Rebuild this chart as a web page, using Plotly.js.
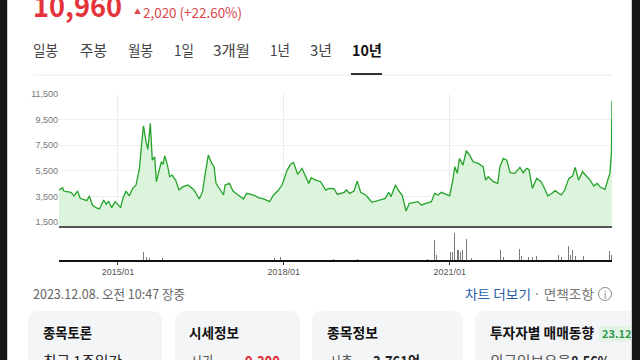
<!DOCTYPE html>
<html><head><meta charset="utf-8">
<script src="https://cdn.plot.ly/plotly-3.0.1.min.js"></script>
<style>
html,body{margin:0;padding:0;width:640px;height:360px;overflow:hidden;background:#fff;}
#wrap{position:relative;width:640px;height:360px;overflow:hidden;}
#deco{position:absolute;left:0;top:0;}
#chart{position:absolute;left:0;top:0;width:640px;height:360px;}
.k{font-family:"Noto Sans CJK KR","Noto Sans",sans-serif;}
</style></head>
<body><div id="wrap">
<svg id="deco" width="640" height="360" xmlns="http://www.w3.org/2000/svg">
  <rect x="0" y="0" width="640" height="360" fill="#ffffff"/>
  <!-- header -->
  <text class="k" x="33" y="17" font-size="29" font-weight="700" fill="#e5333b" textLength="89" lengthAdjust="spacingAndGlyphs">10,960</text>
  <text class="k" x="134" y="14" font-size="7" fill="#e0464b">▲</text>
  <text class="k" x="143" y="18" font-size="14" fill="#d9474b" textLength="99" lengthAdjust="spacingAndGlyphs">2,020 (+22.60%)</text>
  <!-- tabs -->
  <g class="k" font-size="15" fill="#444">
    <text x="33" y="56" textLength="25" lengthAdjust="spacingAndGlyphs">일봉</text>
    <text x="80" y="56" textLength="27" lengthAdjust="spacingAndGlyphs">주봉</text>
    <text x="128" y="56" textLength="25" lengthAdjust="spacingAndGlyphs">월봉</text>
    <text x="174" y="56" textLength="20" lengthAdjust="spacingAndGlyphs">1일</text>
    <text x="213" y="56" textLength="37" lengthAdjust="spacingAndGlyphs">3개월</text>
    <text x="270" y="56" textLength="20" lengthAdjust="spacingAndGlyphs">1년</text>
    <text x="310" y="56" textLength="22" lengthAdjust="spacingAndGlyphs">3년</text>
    <text x="352" y="56" fill="#111" font-weight="700" textLength="30" lengthAdjust="spacingAndGlyphs">10년</text>
  </g>
  <rect x="33" y="74.5" width="579" height="1" fill="#ececec"/>
  <rect x="351" y="73" width="31" height="2" fill="#333"/>
  <!-- footer line -->
  <text class="k" x="33" y="299" font-size="13" fill="#666" textLength="152" lengthAdjust="spacingAndGlyphs">2023.12.08. 오전 10:47 장중</text>
  <text class="k" x="465" y="299" font-size="13" fill="#2b5ea8" textLength="66" lengthAdjust="spacingAndGlyphs">차트 더보기</text>
  <text class="k" x="533" y="299" font-size="13" fill="#777" textLength="61" lengthAdjust="spacingAndGlyphs">· 면책조항</text>
  <circle cx="605" cy="294" r="6.5" fill="none" stroke="#888" stroke-width="1"/>
  <text class="k" x="605" y="298.5" font-size="10" fill="#888" text-anchor="middle">i</text>
  <!-- cards -->
  <rect x="28" y="311" width="134" height="80" rx="9" fill="#f4f5f7"/>
  <rect x="175" y="311" width="125" height="80" rx="9" fill="#f4f5f7"/>
  <rect x="312" y="311" width="151" height="80" rx="9" fill="#f4f5f7"/>
  <rect x="475" y="311" width="180" height="80" rx="9" fill="#f4f5f7"/>
  <g class="k" font-size="14" font-weight="700" fill="#111">
    <text x="43" y="338" textLength="49" lengthAdjust="spacingAndGlyphs">종목토론</text>
    <text x="189" y="338" textLength="50" lengthAdjust="spacingAndGlyphs">시세정보</text>
    <text x="327" y="338" textLength="51" lengthAdjust="spacingAndGlyphs">종목정보</text>
    <text x="490" y="338" textLength="104" lengthAdjust="spacingAndGlyphs">투자자별 매매동향</text>
  </g>
  <rect x="599" y="326" width="50" height="16" rx="3" fill="#e2f3e5"/>
  <text class="k" x="602" y="338" font-size="11" font-weight="700" fill="#2f9a4c">23.12.</text>
  <g class="k" font-size="15" fill="#222">
    <text x="43" y="367" textLength="79" lengthAdjust="spacingAndGlyphs">최근 1주일간</text>
    <text x="190" y="367" fill="#555" textLength="24" lengthAdjust="spacingAndGlyphs">시가</text>
    <text x="245" y="367" fill="#e0262e" font-weight="700" textLength="35" lengthAdjust="spacingAndGlyphs">9,300</text>
    <text x="329" y="367" fill="#555" textLength="24" lengthAdjust="spacingAndGlyphs">시총</text>
    <text x="373" y="367" font-weight="700" textLength="47" lengthAdjust="spacingAndGlyphs">3,761억</text>
    <text x="490" y="367" fill="#555" textLength="81" lengthAdjust="spacingAndGlyphs">외국인보유율</text>
    <text x="571" y="367" font-weight="700" textLength="39" lengthAdjust="spacingAndGlyphs">8.56%</text>
  </g>
</svg>
<div id="chart"></div>
<svg width="640" height="360" style="position:absolute;left:0;top:0;pointer-events:none" xmlns="http://www.w3.org/2000/svg">
  <rect x="0" y="0" width="7" height="360" fill="#161616"/>
  <rect x="7" y="0" width="1" height="360" fill="#d0d0d0"/>
  <rect x="631" y="0" width="1" height="360" fill="#cfcfcf"/>
  <rect x="632" y="0" width="8" height="360" fill="#161616"/>
</svg>
</div>
<script>
// ---- data ----
const priceDates = ['2013-12-08','2014-01-01','2014-01-09','2014-02-25','2014-03-18','2014-04-09','2014-04-27','2014-05-25','2014-06-10','2014-06-26','2014-07-17','2014-08-09','2014-09-01','2014-09-29','2014-10-16','2014-10-31','2014-11-21','2014-12-14','2015-01-01','2015-01-19','2015-02-03','2015-02-24','2015-03-17','2015-04-09','2015-05-01','2015-05-23','2015-06-08','2015-06-19','2015-07-07','2015-07-18','2015-08-03','2015-08-16','2015-09-01','2015-09-12','2015-09-27','2015-10-15','2015-10-26','2015-11-06','2015-11-24','2015-12-09','2015-12-25','2016-01-17','2016-02-08','2016-03-06','2016-04-09','2016-05-18','2016-06-21','2016-07-13','2016-07-29','2016-08-20','2016-09-12','2016-09-27','2016-10-10','2016-11-01','2016-11-28','2016-12-09','2017-01-07','2017-01-30','2017-03-06','2017-04-09','2017-05-01','2017-06-14','2017-07-17','2017-08-20','2017-09-29','2017-10-25','2017-11-21','2017-12-20','2018-01-23','2018-02-14','2018-03-06','2018-04-02','2018-05-01','2018-05-23','2018-06-14','2018-06-30','2018-07-29','2018-09-01','2018-10-04','2018-10-25','2018-11-28','2018-12-20','2019-02-03','2019-02-19','2019-03-11','2019-04-09','2019-05-01','2019-05-23','2019-06-26','2019-08-05','2019-09-01','2019-10-04','2019-11-02','2019-11-24','2019-12-09','2020-01-08','2020-01-30','2020-02-21','2020-03-18','2020-04-09','2020-05-05','2020-06-04','2020-06-26','2020-07-29','2020-09-01','2020-09-23','2020-10-15','2020-11-06','2020-12-09','2020-12-31','2021-01-19','2021-02-03','2021-02-19','2021-03-06','2021-03-29','2021-04-20','2021-05-12','2021-06-04','2021-07-07','2021-08-09','2021-08-25','2021-09-12','2021-10-15','2021-11-13','2021-11-28','2021-12-20','2022-01-12','2022-02-03','2022-03-06','2022-04-09','2022-05-01','2022-05-23','2022-06-08','2022-06-30','2022-07-29','2022-08-27','2022-09-23','2022-10-10','2022-11-06','2022-11-28','2022-12-20','2023-01-07','2023-01-30','2023-02-26','2023-03-22','2023-04-09','2023-05-01','2023-05-28','2023-06-26','2023-07-17','2023-08-09','2023-09-01','2023-09-23','2023-10-22','2023-10-31','2023-11-10','2023-11-24','2023-12-04','2023-12-07','2023-12-08'];
const priceValues = [4000,4180,3920,3820,3530,3920,3350,3220,3170,3530,2830,2620,2520,3220,2880,3140,2620,3090,2880,2620,3350,3920,3550,4130,4390,5690,7770,9020,7700,7180,9210,6340,6600,4650,5380,6210,6010,6680,5950,5040,5170,4780,4000,4260,4390,4000,3300,3870,5170,6730,6080,5820,4520,4130,3610,4390,4520,3920,3610,3300,3740,3610,3400,3300,3090,3610,3920,4390,5560,6010,6160,5230,5690,5040,4520,4960,4780,4650,4000,4130,4100,3660,3820,4000,3740,3920,4700,3820,3610,3040,3140,3220,3350,3820,3480,4390,3920,3610,2360,2960,3040,3090,2830,2960,3090,3740,3610,3820,3660,3550,4650,5820,5300,6470,5950,7070,6730,6210,6080,5820,4780,5040,4650,4520,5820,6470,6340,5350,5300,5770,5350,5690,5590,4130,4910,4650,4000,3530,3740,3950,3740,3610,4000,4910,5090,5770,4780,5430,5040,4780,4310,4520,4210,4050,4390,4780,5300,6860,8940,10960];
const volDates = ['2015-06-19','2015-07-09','2015-07-29','2015-10-24','2016-07-29','2016-08-18','2017-10-30','2017-12-09','2018-11-26','2019-05-03','2020-02-01','2020-08-05','2020-09-23','2020-10-04','2021-01-07','2021-01-19','2021-01-30','2021-02-10','2021-02-21','2021-03-01','2021-03-13','2021-03-24','2021-04-05','2021-04-20','2021-05-01','2021-05-23','2021-11-22','2021-12-03','2021-12-20','2022-04-05','2022-04-20','2022-06-06','2022-07-02','2022-07-29','2022-12-20','2023-01-07','2023-02-26','2023-03-07','2023-03-22','2023-04-09','2023-06-04','2023-11-21','2023-12-04','2023-12-08'];
const volValues = [8,3,2,2,2,2,2,3,1,1.5,1,1,20,5,8,8,27,30,10,10,8,10,7,21,5,2,20,10,3,11,4,3,3,4,5,3,14,5,10,4,4,9,5,17];
const xTickVals = ['2015-01-01','2018-01-01','2021-01-01'];
const xTickText = ['2015/01','2018/01','2021/01'];
const yTickVals = [1500,3500,5500,7500,9500,11500];
const xRange = ['2013-12-08','2023-12-08'];

const price = {type:'scatter', mode:'lines', x:priceDates, y:priceValues, xaxis:'x', yaxis:'y',
  line:{color:'#25a32b', width:1.3}, fill:'tozeroy', fillcolor:'#dcf4dc', hoverinfo:'skip'};
const vol = {type:'bar', x:volDates, y:volValues, xaxis:'x2', yaxis:'y2',
  marker:{color:'#7a7a7a', line:{width:0}}, width:volDates.map(()=>5*86400000), hoverinfo:'skip'};

const tickFont = {family:'Liberation Sans, Arial, sans-serif', size:9, color:'#777'};
const layout = {
  width:640, height:360,
  margin:{l:59, r:28, t:94, b:100, pad:0},
  paper_bgcolor:'rgba(0,0,0,0)', plot_bgcolor:'rgba(0,0,0,0)',
  showlegend:false, bargap:0,
  xaxis:{type:'date', range:xRange, anchor:'y', tickvals:xTickVals, showticklabels:false,
    showgrid:true, gridcolor:'#ebebeb', gridwidth:1, showline:true, linecolor:'#555', linewidth:2,
    ticks:'', zeroline:false, fixedrange:true},
  yaxis:{domain:[0.205,1], range:[1188,11510], tickvals:yTickVals, tickformat:',', showgrid:true,
    gridcolor:'#eeeeee', gridwidth:1, tickfont:tickFont, zeroline:false, ticks:'', showline:false, fixedrange:true},
  xaxis2:{type:'date', range:xRange, anchor:'y2', tickvals:xTickVals, ticktext:xTickText,
    showgrid:false, showline:true, linecolor:'#111', linewidth:1.5, ticks:'outside', ticklen:3,
    tickcolor:'#333', tickfont:{family:'Liberation Sans, Arial, sans-serif', size:9, color:'#555'}, zeroline:false, fixedrange:true},
  yaxis2:{domain:[0,0.193], range:[0,32], visible:false, fixedrange:true}
};
Plotly.newPlot('chart', [price, vol], layout, {displayModeBar:false, staticPlot:true});
</script>
</body></html>
